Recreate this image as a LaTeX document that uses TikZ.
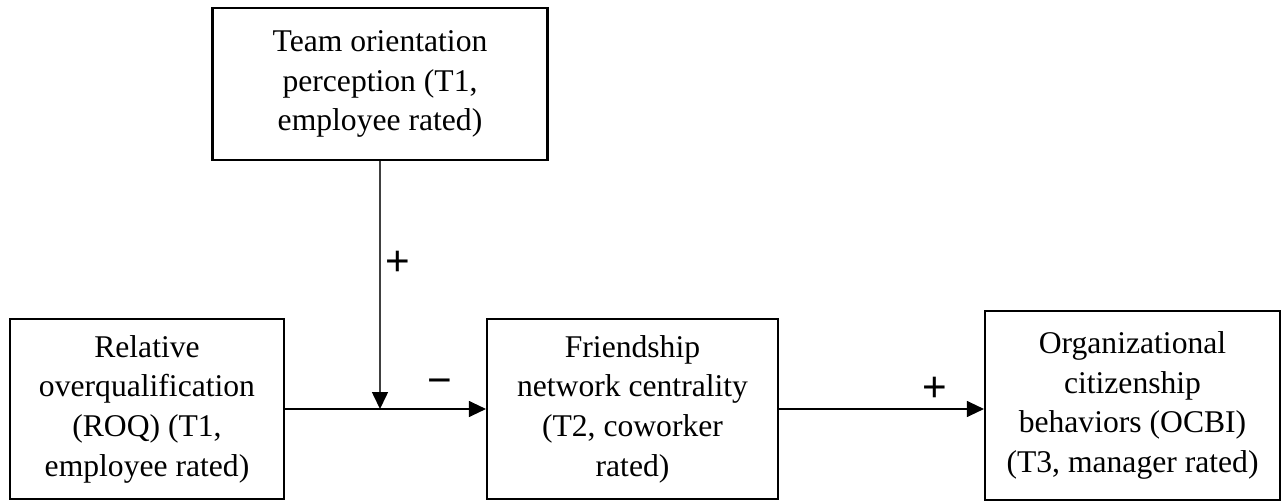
\documentclass[tikz,border=0pt]{standalone}
\usepackage{fontspec}
\setmainfont{Liberation Serif}
\newfontfamily\signfont{Liberation Sans}
\usetikzlibrary{positioning, arrows.meta, calc}

\begin{document}
\begin{tikzpicture}[
        x=0.02cm, y=-0.02cm,
        varbox/.style={rectangle, draw=black, line width=1.2pt, align=center, inner sep=0pt,
            font=\fontsize{18}{22.6}\selectfont},
        link/.style={-{Triangle[length=0.34cm, width=0.32cm, color=black]}, color=black, line width=0.6pt},
        sign/.style={font=\signfont\fontsize{24}{24}\selectfont, inner sep=1pt}
        ]

        % Frame of the page
        \useasboundingbox (0,0) rectangle (1288,503);

        % Boxes
        \node[varbox, minimum width=335*0.02cm, minimum height=152*0.02cm] (team) at (380,84)
            {Team orientation\\perception (T1,\\employee rated)};
        \node[varbox, minimum width=274*0.02cm, minimum height=180*0.02cm] (roq) at (147,409)
            {Relative\\overqualification\\(ROQ) (T1,\\employee rated)};
        \node[varbox, minimum width=291*0.02cm, minimum height=180*0.02cm] (fnc) at (632.5,409)
            {Friendship\\network centrality\\(T2, coworker\\rated)};
        \node[varbox, minimum width=295*0.02cm, minimum height=189*0.02cm] (ocb) at (1132.5,405.5)
            {Organizational\\citizenship\\behaviors (OCBI)\\(T3, manager rated)};

        % Point where the moderator meets the main path
        \coordinate (mod) at (team.south |- roq.east);

        % Connections
        \draw[link] (roq.east) -- (fnc.west);
        \draw[link] (fnc.east) -- (ocb.west |- fnc.east);
        \draw[link, draw=black!75, line width=0.9pt] (team.south) -- (mod);

        % Signs
        \node[sign, anchor=west] (s1) at (383,263) {+};
        \node[sign] (s2) at (440,387) {−};
        \node[sign] (s3) at (935,389) {+};

    \end{tikzpicture}
\end{document}
